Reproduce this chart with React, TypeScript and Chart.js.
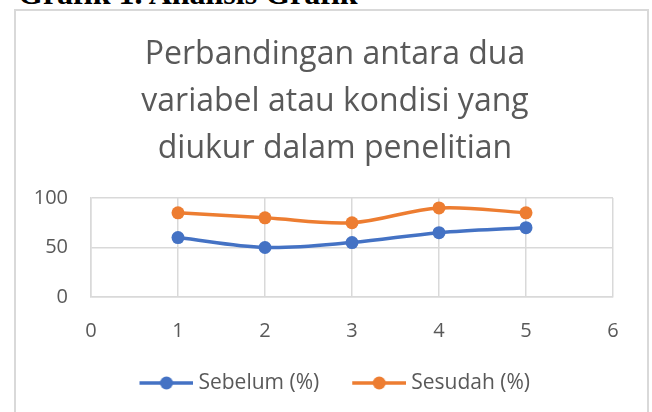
import React, { useEffect, useRef } from "react";
import { Chart, registerables } from "chart.js";

Chart.register(...registerables);

const xValues = [1, 2, 3, 4, 5];
const sebelum = [60, 50, 55, 65, 70];
const sesudah = [85, 80, 75, 90, 85];
const seriesNames = ["Sebelum (%)", "Sesudah (%)"];
const seriesColors = ["#4472C4", "#ED7D31"];
const titleLines = [
  "Perbandingan antara dua",
  "variabel atau kondisi yang",
  "diukur dalam penelitian",
];
const headerText = "Grafik 1. Analisis Grafik";

const FONT = "'Open Sans', sans-serif";
const TEXT = "#595959";
const GRID = "#d9d9d9";

const CANVAS_W = 631;
const CANVAS_H = 404;

function makeMarker(color: string) {
  // 5px transparent lead-in so the marker sits closer to its label
  const c = document.createElement("canvas");
  c.width = 59;
  c.height = 16;
  const ctx = c.getContext("2d")!;
  ctx.strokeStyle = color;
  ctx.lineWidth = 3.5;
  ctx.beginPath();
  ctx.moveTo(5, 8);
  ctx.lineTo(59, 8);
  ctx.stroke();
  ctx.fillStyle = color;
  ctx.beginPath();
  ctx.arc(32, 8, 6.5, 0, Math.PI * 2);
  ctx.fill();
  return c;
}

export default function App() {
  const ref = useRef<HTMLCanvasElement | null>(null);

  useEffect(() => {
    if (!ref.current) return;
    const markers = seriesColors.map(makeMarker);
    const seriesData = [sebelum, sesudah];
    const chart = new Chart(ref.current, {
      type: "line",
      data: {
        datasets: seriesData.map((vals, i) => ({
          label: seriesNames[i],
          data: xValues.map((x, j) => ({ x, y: vals[j] })),
          borderColor: seriesColors[i],
          backgroundColor: seriesColors[i],
          borderWidth: 3.5,
          pointRadius: 6.5,
          pointBackgroundColor: seriesColors[i],
          pointBorderWidth: 0,
          tension: 0.35,
          fill: false,
          yAxisID: "y",
        })),
      },
      options: {
        animation: false,
        responsive: false,
        maintainAspectRatio: false,
        layout: { padding: { left: 0, right: -7, top: 0, bottom: 11.5 } },
        plugins: {
          tooltip: { enabled: false },
          title: {
            display: true,
            text: titleLines,
            color: TEXT,
            font: { family: FONT, size: 32, weight: "normal", lineHeight: "47px" },
            padding: { top: 20.5, bottom: 25.5 },
          },
          legend: {
            position: "bottom",
            labels: {
              usePointStyle: true,
              pointStyleWidth: 48,
              padding: 33.5,
              color: TEXT,
              font: { family: FONT, size: 21 },
              generateLabels: (ch: any) => {
                const items = (Chart as any).defaults.plugins.legend.labels.generateLabels(ch);
                return items.map((it: any, i: number) => ({ ...it, pointStyle: markers[i] }));
              },
            },
          },
        },
        scales: {
          x: {
            type: "linear",
            min: 0,
            max: 6,
            ticks: {
              stepSize: 1,
              color: TEXT,
              font: { family: FONT, size: 20 },
              padding: 22,
            },
            grid: { color: GRID, lineWidth: 1.5, drawTicks: false },
            border: { color: GRID, width: 1.5 },
            afterFit: (s: any) => {
              s.height = 42;
            },
          },
          y: {
            min: 0,
            max: 100,
            ticks: {
              stepSize: 50,
              color: TEXT,
              font: { family: FONT, size: 20 },
              padding: 23,
            },
            grid: { color: GRID, lineWidth: 1.5, drawTicks: false },
            border: { color: GRID, width: 1.5 },
            afterFit: (s: any) => {
              s.width = 75;
            },
          },
          spacer: {
            position: "right",
            display: true,
            ticks: { display: false },
            grid: { display: false, drawTicks: false },
            border: { display: false },
            afterFit: (s: any) => {
              s.width = 41;
            },
          },
        },
      },
    });
    return () => chart.destroy();
  }, []);

  return (
    <div
      style={{
        position: "fixed",
        left: 0,
        top: 0,
        width: 652,
        height: 412,
        overflow: "hidden",
        background: "#fff",
      }}
    >
      <div
        style={{
          position: "absolute",
          left: 18,
          top: -23,
          fontFamily: "'Liberation Serif', 'Times New Roman', serif",
          fontWeight: "bold",
          fontSize: 32,
          lineHeight: "32px",
          color: "#000",
          whiteSpace: "nowrap",
        }}
      >
        {headerText}
      </div>
      <div
        style={{
          position: "absolute",
          left: 14,
          top: 9,
          width: CANVAS_W,
          height: CANVAS_H,
          border: `2px solid ${GRID}`,
          background: "#fff",
        }}
      >
        <canvas
          ref={ref}
          width={CANVAS_W}
          height={CANVAS_H}
          style={{ display: "block", width: CANVAS_W, height: CANVAS_H }}
        />
      </div>
    </div>
  );
}
